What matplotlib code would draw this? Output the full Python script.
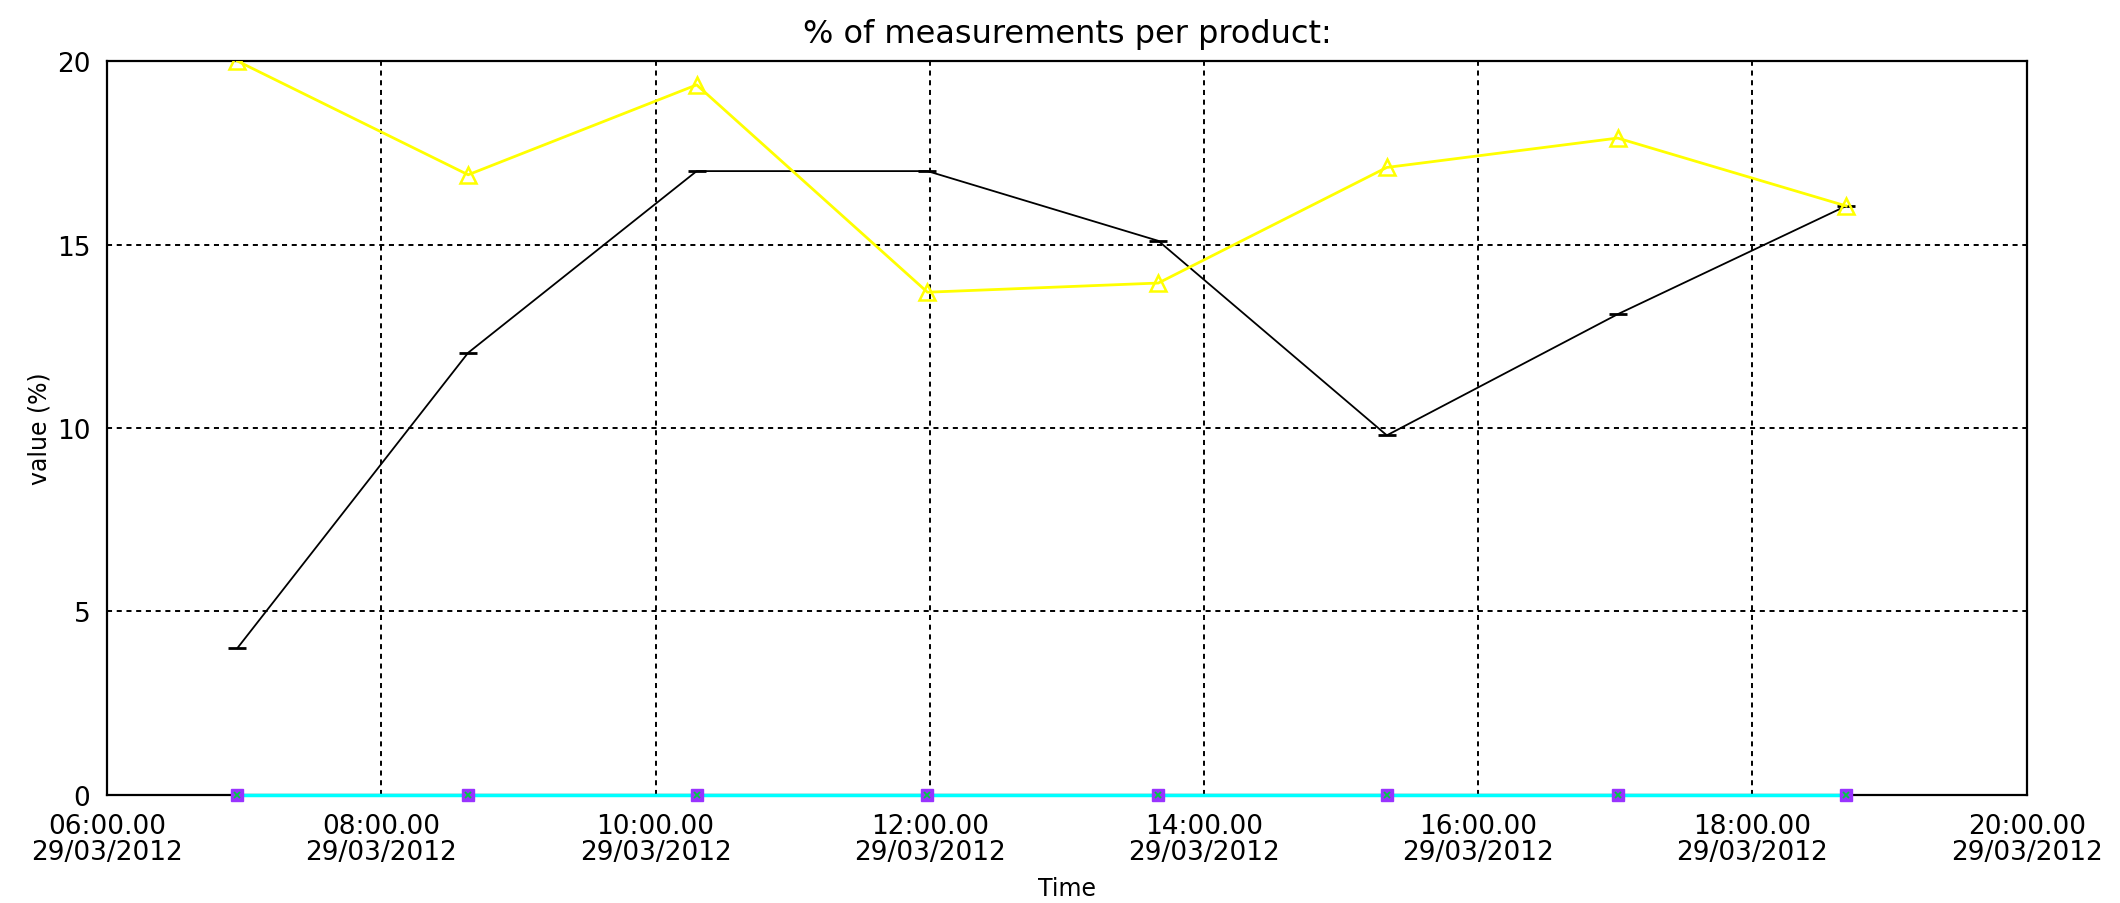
import matplotlib
matplotlib.use("Agg")
import matplotlib.pyplot as plt
import matplotlib.dates as mdates
import pandas as pd

# measurement times (29/03/2012)
times = ["06:57", "08:38", "10:18", "11:59", "13:40", "15:20", "17:01", "18:41"]
product_black = [4.0, 12.05, 17.0, 17.0, 15.1, 9.8, 13.1, 16.05]
product_yellow = [20.0, 16.9, 19.35, 13.7, 13.95, 17.1, 17.9, 16.05]
product_zero_a = [0, 0, 0, 0, 0, 0, 0, 0]
product_zero_b = [0, 0, 0, 0, 0, 0, 0, 0]

x = pd.to_datetime(["2012-03-29 " + t for t in times])

plt.rcParams['font.family'] = ['DejaVu Sans']

fig = plt.figure(figsize=(21.2, 9.04), dpi=100)
ax = fig.add_axes([0.0505, 0.1195, 0.9055, 0.8119])

grid_style = dict(color='black', linewidth=1.4, linestyle=(0, (2.6, 2.4)))
ax.grid(True, **grid_style)
ax.set_axisbelow(True)

ax.plot(x, product_black, color='black', linewidth=1.3, marker='_',
        markersize=13, markeredgewidth=2, zorder=3)
ax.plot(x, product_yellow, color='#ffff00', linewidth=2.0, marker='^',
        markersize=11, markerfacecolor='none', markeredgecolor='#ffff00',
        markeredgewidth=1.8, zorder=3)
ax.plot(x, product_zero_a, color='#00ffff', linewidth=2.5, marker='s',
        markersize=9, markerfacecolor='#9933ff', markeredgecolor='#9933ff',
        clip_on=False, zorder=4)
ax.plot(x, product_zero_b, color='#00ffff', linewidth=0, marker='x',
        markersize=5, markeredgecolor='#00cc44', markeredgewidth=1.3,
        clip_on=False, zorder=5)

ax.set_xlim(pd.Timestamp("2012-03-29 06:00"), pd.Timestamp("2012-03-29 20:00"))
ax.set_ylim(0, 20)
ax.set_yticks([0, 5, 10, 15, 20])
ax.xaxis.set_major_locator(mdates.HourLocator(byhour=range(6, 21, 2)))
ax.xaxis.set_major_formatter(mdates.DateFormatter('%H:%M.%S\n%d/%m/%Y'))
ax.tick_params(axis='both', length=0, labelsize=19)
ax.tick_params(axis='x', pad=13)
ax.tick_params(axis='y', pad=12)
for lbl in ax.get_xticklabels():
    lbl.set_linespacing(1.0)

for s in ax.spines.values():
    s.set_linewidth(1.6)
    s.set_color('black')

ax.set_title('% of measurements per product:', fontsize=23, pad=14)
ax.set_xlabel('Time', fontsize=17, labelpad=8)
ax.set_ylabel('value (%)', fontsize=17, labelpad=4)

fig.savefig('out.png', dpi=100)
